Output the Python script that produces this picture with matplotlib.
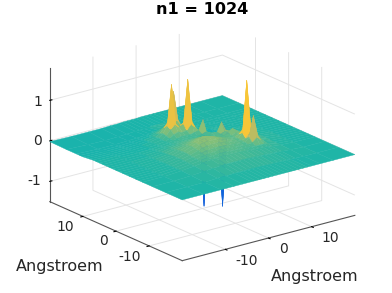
import matplotlib
matplotlib.use('Agg')
import matplotlib.pyplot as plt
from matplotlib.colors import LinearSegmentedColormap, Normalize
import numpy as np

x_nodes = [-20, -15, -11, -8, -6, -4, -3, -2, -1, 0, 1, 2, 3, 4, 5, 6, 7, 8, 9, 10, 12, 15, 20]
y_nodes = [-20, -15, -11, -8, -7, -6, -5, -4, -3, -2, -1, 0, 1, 2, 3, 4, 5, 6, 7, 8, 9, 10, 11, 12, 15, 20]

# values, one row per y node
z_rows = [
    [0, 0, 0, 0, 0, 0, 0, 0, 0, 0, 0, 0, 0, 0, 0, 0, 0, 0, 0, 0, 0, 0, 0],
    [0, 0, 0, .02, .02, .03, .03, .03, .03, .03, .03, .03, .03, .02, .02, .02, .02, .02, .01, .01, 0, 0, 0],
    [0, 0, .02, .04, .06, .07, .08, .08, .08, .08, .08, .08, .07, .07, .06, .06, .05, .05, .04, .03, .02, 0, 0],
    [0, 0, .03, .06, .09, .11, .12, .13, .13, .13, .13, .12, .12, .11, .10, .09, .08, .08, .07, .05, .03, .01, 0],
    [0, 0, .03, .07, .10, .13, .14, .15, .15, .15, .15, .14, .14, .13, .12, .11, .10, .10, .10, .07, .03, .01, 0],
    [0, 0, .03, .07, .11, .14, .16, .17, .18, .18, .17, .17, .16, .15, .14, .13, .15, .24, .15, .08, .03, .01, 0],
    [0, 0, .03, .08, .12, .16, .19, .20, .21, .21, .20, .19, .18, .17, .15, .15, .24, .75, .24, .10, .03, .01, 0],
    [0, 0, .03, .08, .13, .19, .22, .24, .26, .26, .25, .23, .21, .19, .17, .16, .18, .30, .20, .10, .04, .01, 0],
    [0, 0, .03, .08, .14, .21, .26, .29, .30, .30, .29, .26, .23, .20, .18, .17, .28, 1.55, .28, .10, .04, .01, 0],
    [0, 0, .03, .08, .14, .22, .27, .31, .33, .33, .31, .27, .23, .20, .18, .17, .22, .32, .20, .10, .04, .01, 0],
    [0, 0, .02, .07, .13, .20, .24, .28, .31, .32, .29, .25, .21, .18, .17, .17, .22, .20, .14, .08, .03, .01, 0],
    [0, 0, .02, .06, .12, .17, .20, .23, .26, .27, .25, .21, .18, .16, .16, .20, .28, .20, .12, .07, .03, 0, 0],
    [0, 0, .02, .05, .10, .14, .16, .18, .20, .21, .19, .17, .15, .14, .16, .20, .18, .14, .09, .05, .02, 0, 0],
    [0, 0, .01, .04, .08, .11, .13, .14, .15, .16, .15, .13, .12, .12, .17, .40, .17, .10, .07, .04, .02, 0, 0],
    [0, 0, .01, .03, .06, .08, .10, .11, .12, .12, .11, .10, .09, .10, .12, -.10, -1.75, -.10, .04, .03, .01, 0, 0],
    [0, 0, 0, .02, .04, .06, .08, .09, .10, .10, .10, .09, .10, .14, .08, .06, -.10, .04, .03, .02, .01, 0, 0],
    [0, 0, 0, .01, .03, .05, .08, .10, .13, .12, .11, .14, .16, .40, -.10, .05, .04, .03, .02, .01, 0, 0, 0],
    [0, 0, -.01, .01, .02, .05, .09, .16, .20, .16, .18, .30, .20, -.10, -1.8, -.10, .03, .02, .01, 0, 0, 0, 0],
    [0, -.01, -.01, 0, .02, .05, .12, .25, .34, .25, .30, 1.38, .30, .05, -.10, .02, .02, .01, 0, 0, 0, 0, 0],
    [-.01, -.02, -.02, -.01, .02, .06, .14, .30, 1.3, .30, .22, .30, .20, .08, .02, .02, .01, .01, 0, 0, 0, 0, 0],
    [-.02, -.03, -.03, -.02, 0, .04, .10, .22, .34, .28, .30, .15, .08, .04, .02, .01, .01, 0, 0, 0, 0, 0, 0],
    [-.03, -.04, -.04, -.03, -.01, .02, .06, .12, .18, .28, 1.0, .28, .06, .03, .01, .01, 0, 0, 0, 0, 0, 0, 0],
    [-.03, -.05, -.05, -.04, -.02, 0, .02, .05, .08, .12, .28, .12, .04, .02, .01, 0, 0, 0, 0, 0, 0, 0, 0],
    [-.03, -.05, -.05, -.04, -.03, -.02, -.01, .01, .02, .04, .06, .04, .02, .01, 0, 0, 0, 0, 0, 0, 0, 0, 0],
    [-.03, -.05, -.06, -.05, -.04, -.03, -.03, -.02, -.02, -.01, -.01, -.01, 0, 0, 0, 0, 0, 0, 0, 0, 0, 0, 0],
    [-.02, -.03, -.03, -.03, -.02, -.02, -.01, -.01, -.01, -.01, 0, 0, 0, 0, 0, 0, 0, 0, 0, 0, 0, 0, 0],
]
xy_ticks = [-10, 0, 10]
z_ticks = [-1, 0, 1]

parula = LinearSegmentedColormap.from_list('parula', [
    (0, '#352a87'), (0.125, '#0f5cdd'), (0.25, '#1481d6'), (0.375, '#06a4ca'), (0.5, '#1cb5a8'),
    (0.58, '#87bf77'), (0.7, '#d1bb59'), (0.85, '#fec832'), (1, '#f9fb0e')])

X, Y = np.meshgrid(x_nodes, y_nodes)
Z = np.array(z_rows, dtype=float)

# colour each facet mostly by its strongest corner, so the spikes keep their tips
corners = np.stack([Z[:-1, :-1], Z[1:, :-1], Z[:-1, 1:], Z[1:, 1:]])
pick = np.abs(corners).argmax(axis=0)
strong = np.take_along_axis(corners, pick[None], axis=0)[0]
facet = 0.7 * strong + 0.3 * corners.mean(axis=0)
facet = np.pad(facet, ((0, 1), (0, 1)), mode='edge')
colors = parula(Normalize(-1.9, 1.9)(facet))

fig = plt.figure(figsize=(3.92, 2.93), dpi=100)
ax = fig.add_axes([0.006, 0.003, 1, 1], projection='3d', proj_type='ortho')
ax.view_init(elev=20, azim=-127.5)
ax.set_box_aspect((1, 1, 0.654), zoom=1.123)

surf = ax.plot_surface(X, Y, Z, facecolors=colors, rstride=1, cstride=1,
                       shade=False, linewidth=0.3, antialiased=True)
surf.set_edgecolor(colors[:-1, :-1].reshape(-1, 4))
surf.set_clip_on(False)

ax.set_xlim(-20, 20)
ax.set_ylim(-20, 20)
ax.set_zlim(-1.5, 1.8)
ax.set_xticks(xy_ticks)
ax.set_yticks(xy_ticks)
ax.set_zticks(z_ticks)
ax.set_xticklabels([])
ax.set_yticklabels([])
ax.set_zticklabels([])

for axis in (ax.xaxis, ax.yaxis, ax.zaxis):
    axis.set_pane_color((1, 1, 1, 0))
    axis.pane.set_edgecolor((1, 1, 1, 0))
    axis.line.set_color('#555555')
    axis.line.set_linewidth(0.8)
    axis._axinfo['grid']['color'] = '#e4e4e4'
    axis._axinfo['grid']['linewidth'] = 0.7
    axis._axinfo['tick']['inward_factor'] = 0.15
    axis._axinfo['tick']['outward_factor'] = 0
ax.zaxis._axinfo['tick']['inward_factor'] = 0
ax.zaxis._axinfo['tick']['outward_factor'] = 0.15


def label_at(px, py, text, **kw):
    # place text by pixel position in the 392x293 picture
    fig.text(px / 392, 1 - py / 293, text, ha='center', va='center', **kw)


# mplot3d keeps its tick labels too close to the edges, so they go on by hand
for v, px, py in zip(xy_ticks, [247, 283, 330], [261, 249, 238]):
    label_at(px, py, str(v), fontsize=10, color='#262626')
for v, px, py in zip(xy_ticks, [130, 103, 65], [257, 241, 227]):
    label_at(px, py, str(v), fontsize=10, color='#262626')
for v, px, py in zip(z_ticks, [34, 38, 38], [181, 141, 102]):
    label_at(px, py, str(v), fontsize=10, color='#262626')

label_at(202.5, 10, 'n1 = 1024', fontsize=11.6, fontweight='bold')
label_at(60, 266, 'Angstroem', fontsize=11.5, color='#262626')
label_at(315, 277, 'Angstroem', fontsize=11.5, color='#262626')

plt.savefig('out.png', dpi=100)
